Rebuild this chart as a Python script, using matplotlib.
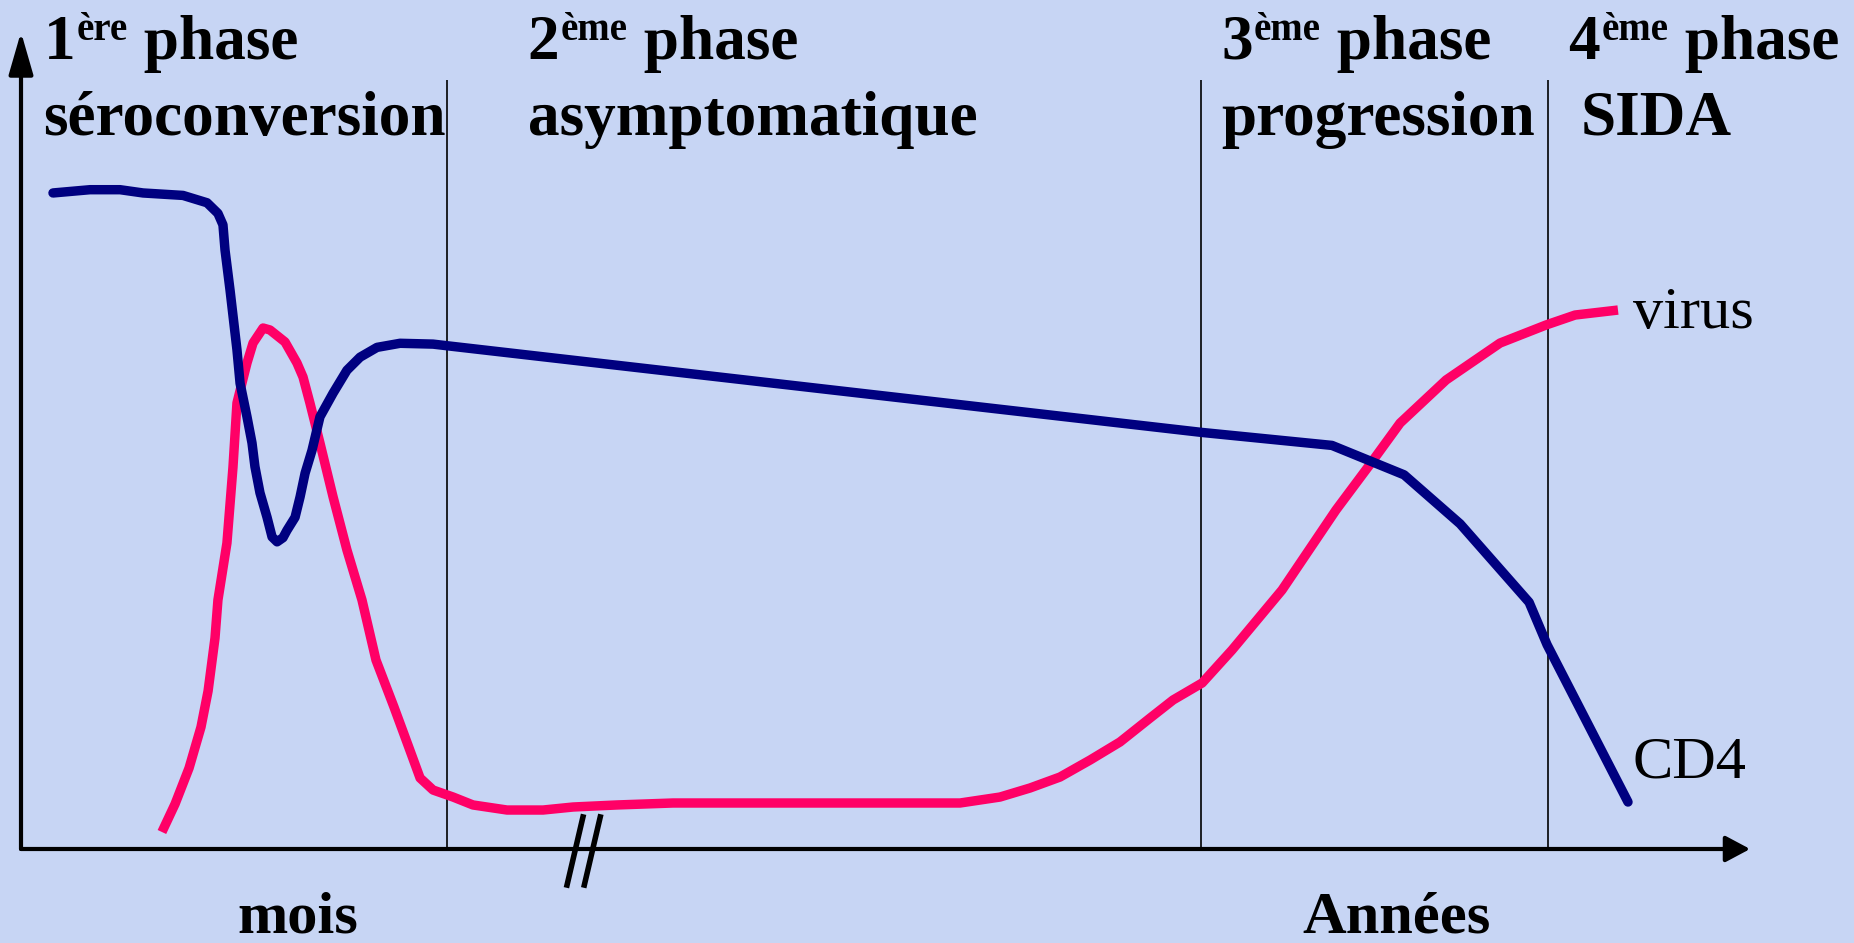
import matplotlib.pyplot as plt

plt.rcParams['font.family'] = ['Liberation Serif', 'DejaVu Serif']

# Évolution de l'infection VIH (unités arbitraires, temps en abscisse)
cd4_t = [1.85, 3.99, 5.73, 7.06, 9.37, 10.76, 11.39, 11.68, 11.80, 12.09,
         12.49, 12.67, 13.07, 13.36, 13.53, 13.82, 14.23, 14.52, 14.81, 15.15,
         15.38, 15.85, 16.14, 16.43, 16.83, 17.29, 18.05, 18.85, 19.61, 20.59,
         21.92, 23.83, 24.64, 68.25, 75.82, 79.99, 83.23, 87.22, 88.26, 92.94]
cd4_y = [80.3, 80.7, 80.7, 80.3, 80.0, 79.1, 77.8, 76.4, 73.3, 68.4,
         61.1, 57.0, 52.9, 49.7, 46.8, 43.6, 40.6, 38.2, 37.6, 38.1,
         39.0, 40.6, 43.1, 46.0, 48.8, 52.9, 55.8, 58.6, 60.2, 61.4,
         61.9, 61.8, 61.6, 51.0, 49.4, 45.8, 39.8, 30.2, 25.0, 5.75]

virus_t = [8.15, 8.91, 9.72, 10.41, 10.82, 11.22, 11.39, 11.91, 12.26, 12.49,
           13.07, 13.42, 14.00, 14.40, 15.27, 15.96, 16.31, 16.71, 17.29, 18.05,
           18.85, 19.72, 20.53, 21.57, 22.38, 23.08, 23.83, 24.99, 26.14, 28.11,
           30.19, 31.93, 34.47, 37.71, 54.31, 56.62, 58.36, 60.09, 61.83, 63.56,
           65.30, 66.63, 68.31, 70.04, 72.93, 76.05, 78.08, 79.76, 82.42, 85.54,
           88.20, 89.88, 92.36]
virus_y = [2.08, 5.51, 9.91, 14.93, 19.34, 25.83, 30.48, 37.45, 46.76, 54.59,
           59.49, 61.93, 63.77, 63.53, 62.06, 59.49, 57.77, 54.59, 49.69, 43.08,
           36.60, 30.48, 23.13, 17.38, 12.73, 8.69, 7.22, 6.36, 5.39, 4.77,
           4.77, 5.14, 5.39, 5.63, 5.63, 6.36, 7.47, 8.81, 10.89, 13.10,
           16.03, 18.24, 20.32, 24.36, 31.70, 41.49, 47.25, 52.14, 57.41, 61.93,
           64.14, 65.36, 65.97]

# limites entre les phases
phase_limits = [24.64, 68.25, 88.32]
phase_nums = ['1', '2', '3', '4']
phase_sups = ['ère', 'ème', 'ème', 'ème']
phase_names = ['séroconversion', 'asymptomatique', 'progression', 'SIDA']

bg = '#c7d5f4'
navy = '#000080'
pink = '#ff0066'

fig = plt.figure(figsize=(18.54, 9.43), dpi=100)
fig.patch.set_facecolor(bg)
ax = fig.add_axes([0, 0, 1, 1])
ax.set_facecolor(bg)
ax.set_xlim(-1.2146, 106.01)
ax.set_ylim(-11.506, 103.92)
ax.axis('off')

# axes fléchés
ax.annotate('', xy=(100, 0), xytext=(0, 0), annotation_clip=False,
            arrowprops=dict(arrowstyle='-|>,head_length=1.5,head_width=0.8',
                            lw=3, color='black', shrinkA=0, shrinkB=0))
ax.annotate('', xy=(0, 100), xytext=(0, 0), annotation_clip=False,
            arrowprops=dict(arrowstyle='-|>,head_length=2.6,head_width=0.75',
                            lw=3, color='black', shrinkA=0, shrinkB=0))

# séparations des phases
ax.vlines(phase_limits, 0, 94.1, color='black', lw=1.2)

# coupure de l'axe du temps
brk = 32.5
for dx in (0, 1.0):
    ax.plot([brk + dx, brk + dx - 0.92], [3.92, -4.41], color='black', lw=4,
            clip_on=False)

ax.plot(virus_t, virus_y, color=pink, lw=6.8, solid_joinstyle='round',
        solid_capstyle='butt')
ax.plot(cd4_t, cd4_y, color=navy, lw=6.8, solid_joinstyle='round',
        solid_capstyle='round')

# titres des phases : "1ère phase" puis le nom sur la deuxième ligne
title_x = [1.3, 29.3, 69.4, 89.5]
name_x = [1.3, 29.3, 69.4, 90.2]
line1_y = 96.7
line2_y = 87.4
big = 45.5
small = 28

for num, sup, name, x1, x2 in zip(phase_nums, phase_sups, phase_names, title_x, name_x):
    t1 = ax.text(x1, line1_y, num, fontsize=big, fontweight='bold',
                 ha='left', va='baseline')
    t2 = ax.annotate(sup, xy=(1, line1_y), xycoords=(t1, 'data'),
                     xytext=(1, 14), textcoords='offset points',
                     fontsize=small, fontweight='bold', ha='left', va='baseline')
    ax.annotate(' phase', xy=(1, line1_y), xycoords=(t2, 'data'),
                xytext=(0, 0), textcoords='offset points',
                fontsize=big, fontweight='bold', ha='left', va='baseline')
    ax.text(x2, line2_y, name, fontsize=big, fontweight='bold',
            ha='left', va='baseline')

ax.text(93.2, 63.8, 'virus', fontsize=43.5, ha='left', va='baseline')
ax.text(93.2, 8.7, 'CD4', fontsize=43.5, ha='left', va='baseline')

ax.text(12.5, -10.2, 'mois', fontsize=43.5, fontweight='bold',
        ha='left', va='baseline')
ax.text(74.1, -10.2, 'Années', fontsize=43.5, fontweight='bold',
        ha='left', va='baseline')

fig.savefig('out.png', dpi=100, facecolor=bg)
